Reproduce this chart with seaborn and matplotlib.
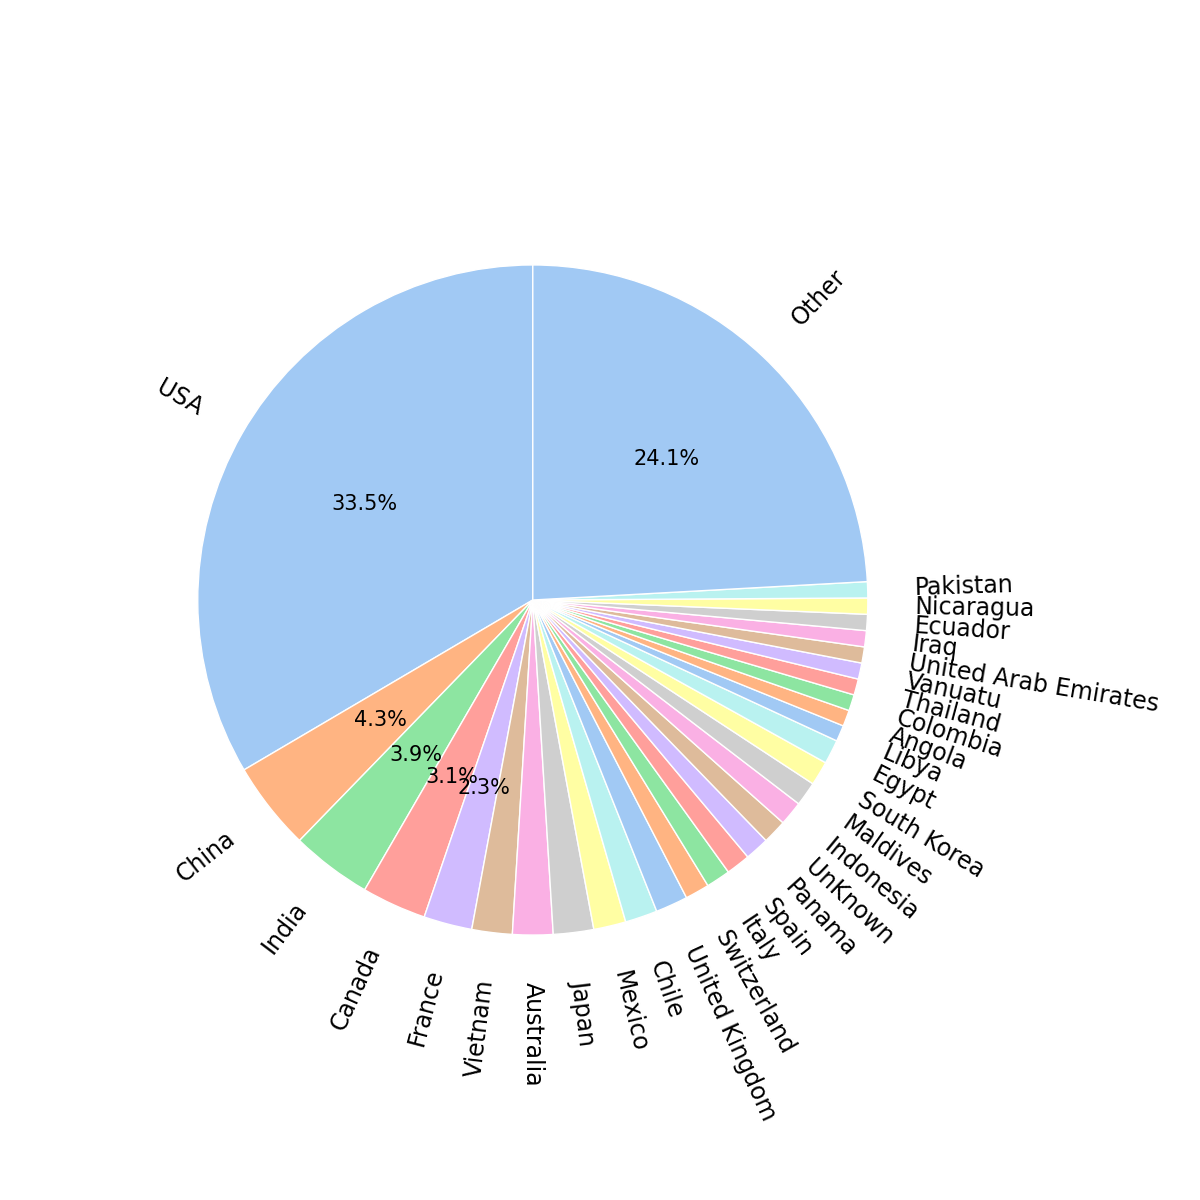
import matplotlib
matplotlib.use("Agg")
import matplotlib.pyplot as plt
import seaborn as sns

countries = ["USA", "China", "India", "Canada", "France", "Vietnam", "Australia",
             "Japan", "Mexico", "Chile", "United Kingdom", "Switzerland", "Italy",
             "Spain", "Panama", "UnKnown", "Indonesia", "Maldives", "South Korea",
             "Egypt", "Libya", "Angola", "Colombia", "Thailand", "Vanuatu",
             "United Arab Emirates", "Iraq", "Ecuador", "Nicaragua", "Pakistan", "Other"]
counts = [86, 11, 10, 8, 6, 5, 5,
          5, 4, 4, 4, 3, 3,
          3, 3, 3, 3, 3, 3,
          3, 2, 2, 2, 2, 2,
          2, 2, 2, 2, 2, 62]

sns.set_theme(style="white")
colors = sns.color_palette("pastel", 10)

fig = plt.figure(figsize=(12, 12), dpi=100)
ax = fig.add_axes([0.095, 0.151, 0.698, 0.698])

wedges, texts, autotexts = ax.pie(
    counts,
    labels=countries,
    colors=colors,
    startangle=90,
    rotatelabels=True,
    labeldistance=1.14,
    pctdistance=0.58,
    autopct=lambda p: f"{p:.1f}%" if p > 2 else "",
    wedgeprops=dict(edgecolor="white", linewidth=1),
)
for t in texts:
    t.set_fontsize(17)
    t.set_color("black")
    t.set_rotation_mode("anchor")
    t.set_verticalalignment("center")
for t in autotexts:
    t.set_fontsize(15)
    t.set_color("black")
ax.set_aspect("equal")

fig.savefig("out.png", dpi=100, facecolor="white")
